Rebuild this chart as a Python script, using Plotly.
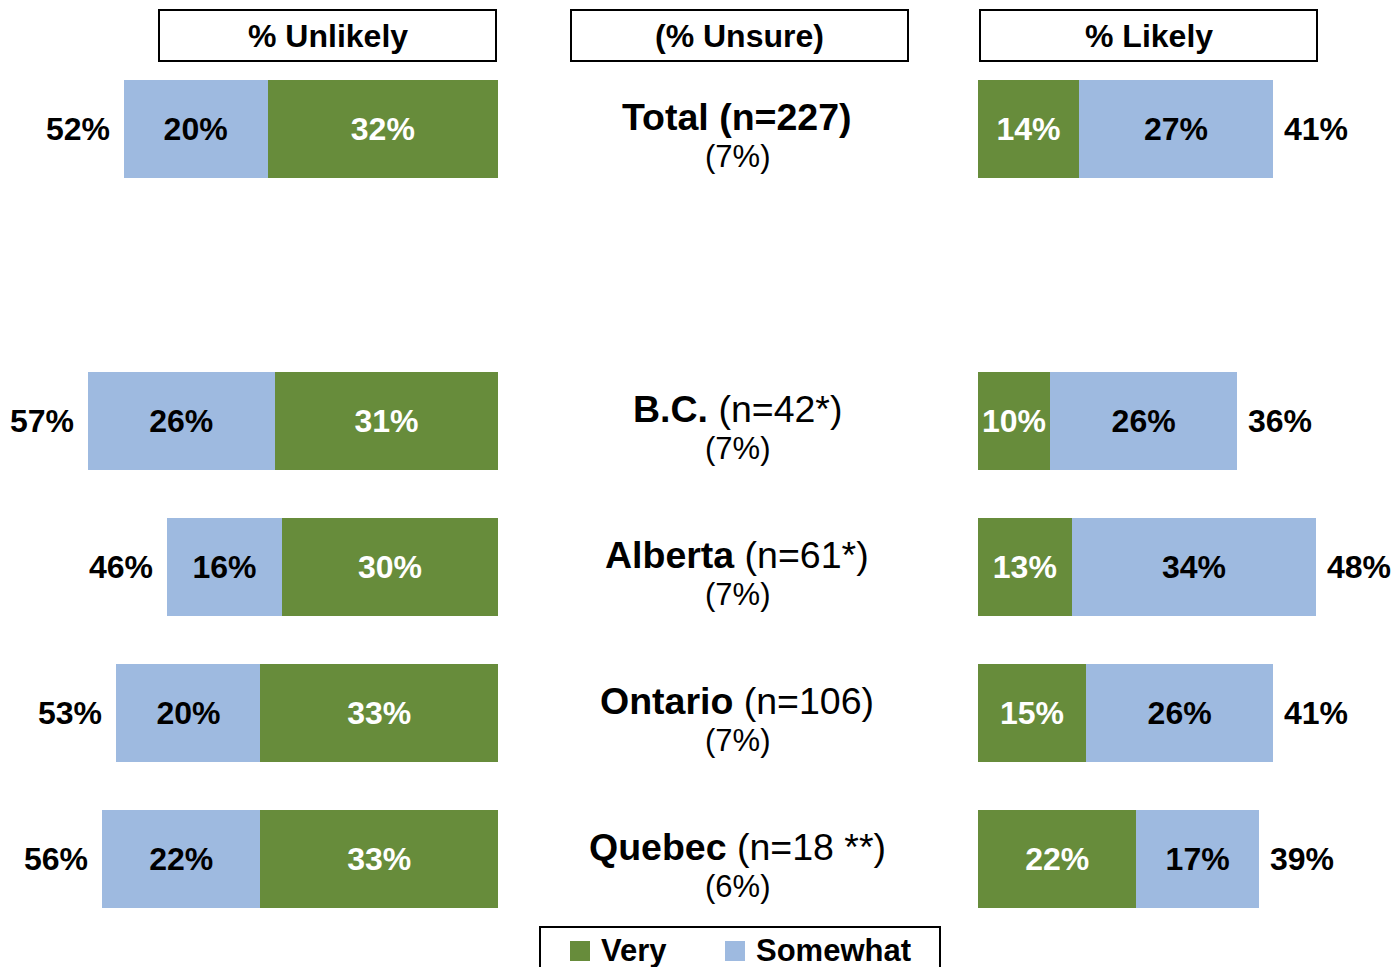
import plotly.graph_objects as go

# ---- data ----
rows = ["Total", "B.C.", "Alberta", "Ontario", "Quebec"]
row_labels = ["<b>Total (n=227)</b>", "<b>B.C.</b> (n=42*)", "<b>Alberta</b> (n=61*)",
              "<b>Ontario</b> (n=106)", "<b>Quebec</b> (n=18 **)"]
unsure = ["(7%)", "(7%)", "(7%)", "(7%)", "(6%)"]

unlikely_very = [32, 31, 30, 33, 33]
unlikely_somewhat = [20, 26, 16, 20, 22]
unlikely_total = [52, 57, 46, 53, 56]

likely_very = [14, 10, 13, 15, 22]
likely_somewhat = [27, 26, 34, 26, 17]
likely_total = [41, 36, 48, 41, 39]

GREEN = "#678C3B"
BLUE = "#9EBAE0"
FONT = "Arial, Liberation Sans, sans-serif"

W, H = 1395, 967
ML, MR = 0, 0
MT = 56
MB = 967 - 932
PH = H - MT - MB


def px(x):
    return x / W


def py(y):
    return (MT + PH - y) / PH


cat_order = [rows[0], " "] + rows[1:]

fig = go.Figure()


def add_bars(xs, color, tcolor, xaxis, name):
    fig.add_trace(go.Bar(
        y=rows, x=xs, orientation="h", xaxis=xaxis, yaxis="y",
        marker=dict(color=color, line=dict(width=0)),
        text=[f"{v}%" for v in xs], textposition="inside",
        insidetextanchor="middle", constraintext="none",
        textfont=dict(family=FONT, size=32, color=tcolor),
        texttemplate="<b>%{text}</b>",
        name=name, showlegend=False, cliponaxis=False,
        hoverinfo="skip",
    ))


add_bars(unlikely_very, GREEN, "white", "x", "Very")
add_bars(unlikely_somewhat, BLUE, "black", "x", "Somewhat")
add_bars(likely_very, GREEN, "white", "x2", "Very")
add_bars(likely_somewhat, BLUE, "black", "x2", "Somewhat")

# spacer category so Total sits apart from the provinces
fig.add_trace(go.Bar(y=[" "], x=[None], orientation="h", xaxis="x", yaxis="y",
                     showlegend=False, hoverinfo="skip"))

ann = []
for i, r in enumerate(rows):
    ann.append(dict(x=unlikely_very[i] + unlikely_somewhat[i], y=r, xref="x", yref="y",
                    text=f"<b>{unlikely_total[i]}%</b>", showarrow=False,
                    xanchor="right", xshift=-12, font=dict(family=FONT, size=32, color="black")))
    ann.append(dict(x=likely_very[i] + likely_somewhat[i], y=r, xref="x2", yref="y",
                    text=f"<b>{likely_total[i]}%</b>", showarrow=False,
                    xanchor="left", xshift=9, font=dict(family=FONT, size=32, color="black")))
    ann.append(dict(x=px(737), y=r, xref="paper", yref="y", text=row_labels[i],
                    showarrow=False, xanchor="center", yanchor="middle", yshift=12,
                    font=dict(family=FONT, size=37.5, color="black")))
    ann.append(dict(x=px(737), y=r, xref="paper", yref="y", text=unsure[i],
                    showarrow=False, xanchor="center", yanchor="middle", yshift=-27,
                    font=dict(family=FONT, size=31, color="black")))

shapes = []
headers = [("% Unlikely", 159, 496), ("(% Unsure)", 571, 908), ("% Likely", 980, 1317)]
for txt, x0, x1 in headers:
    shapes.append(dict(type="rect", xref="paper", yref="paper", x0=px(x0), x1=px(x1),
                       y0=py(61), y1=py(10), line=dict(color="black", width=2),
                       fillcolor="white"))
    ann.append(dict(x=px((x0 + x1) / 2), y=py(36), xref="paper", yref="paper",
                    text=f"<b>{txt}</b>", showarrow=False, xanchor="center", yanchor="middle",
                    font=dict(family=FONT, size=32, color="black")))

# legend box
shapes.append(dict(type="rect", xref="paper", yref="paper", x0=px(540), x1=px(940),
                   y0=py(990), y1=py(927), line=dict(color="black", width=2)))
for col, lab, sx in [(GREEN, "Very", 570), (BLUE, "Somewhat", 725)]:
    shapes.append(dict(type="rect", xref="paper", yref="paper", x0=px(sx), x1=px(sx + 20),
                       y0=py(961), y1=py(941), line=dict(width=0), fillcolor=col))
    ann.append(dict(x=px(sx + 29), y=py(950), xref="paper", yref="paper",
                    text=f"<b>{lab}</b>", showarrow=False, xanchor="left", yanchor="middle",
                    font=dict(family=FONT, size=31, color="black")))

fig.update_layout(
    width=W, height=H,
    margin=dict(l=ML, r=MR, t=MT, b=MB),
    paper_bgcolor="white", plot_bgcolor="white",
    barmode="stack", bargap=0.335,
    showlegend=False,
    xaxis=dict(domain=[0, px(498)], range=[498 / 7.2, 0], visible=False, fixedrange=True),
    xaxis2=dict(domain=[px(978), 1], range=[0, (1395 - 978) / 7.2], visible=False,
                anchor="y", fixedrange=True),
    yaxis=dict(type="category", categoryorder="array", categoryarray=cat_order,
               range=[5.5, -0.5], visible=False, fixedrange=True),
    annotations=ann, shapes=shapes,
)

fig.write_html(
    "out.html",
    config={"displayModeBar": False},
    post_script="document.body.style.margin='0px';"
                "document.body.style.overflow='hidden';"
                "document.documentElement.style.overflow='hidden';",
)
